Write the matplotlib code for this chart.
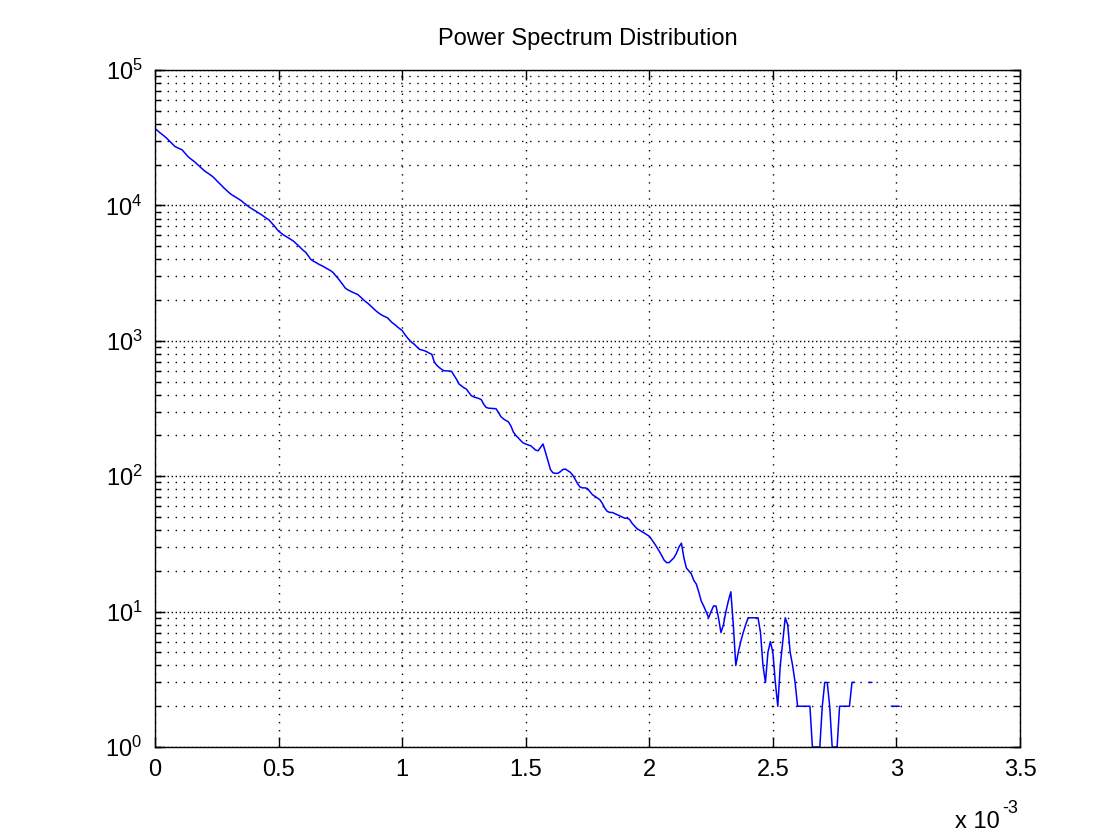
import numpy as np
import matplotlib.pyplot as plt
from matplotlib.ticker import LogLocator, FuncFormatter, NullFormatter

plt.rcParams['font.family'] = ['Liberation Sans', 'DejaVu Sans']
plt.rcParams['mathtext.fontset'] = 'custom'
plt.rcParams['mathtext.rm'] = 'Liberation Sans'

# bin step of the spectrum (x axis is in units of 1e-3)
x_step = 0.01
# counts per bin (0 = empty bin, not drawn on log axis)
counts = [
    36900, 35700, 34400, 33300, 32200, 31000, 29700, 28500, 27300, 26700,
    26200, 25700, 24500, 23300, 22400, 21700, 21000, 20200, 19400, 18700,
    18000, 17500, 17000, 16500, 15900, 15200, 14600, 14000, 13400, 12900,
    12400, 12000, 11700, 11400, 11100, 10800, 10400, 10100, 9750, 9500,
    9250, 9000, 8800, 8550, 8300, 8050, 7850, 7500, 7150, 6800,
    6450, 6250, 6050, 5900, 5750, 5600, 5450, 5250, 5050, 4850,
    4650, 4500, 4250, 4000, 3880, 3800, 3700, 3620, 3550, 3460,
    3380, 3300, 3200, 3050, 2900, 2750, 2600, 2450, 2380, 2330,
    2280, 2240, 2200, 2120, 2040, 1960, 1900, 1830, 1760, 1690,
    1630, 1580, 1540, 1510, 1480, 1420, 1360, 1320, 1270, 1230,
    1190, 1120, 1060, 1010, 970, 940, 900, 865, 855, 845,
    830, 810, 795, 700, 660, 635, 615, 600, 600, 598,
    595, 555, 520, 480, 465, 450, 440, 415, 393, 385,
    380, 375, 368, 340, 322, 318, 317, 316, 315, 295,
    275, 265, 258, 252, 235, 212, 200, 192, 183, 176,
    173, 170, 168, 162, 156, 154, 163, 173, 150, 130,
    112, 106, 105, 105, 108, 112, 113, 110, 107, 102,
    95, 88, 83, 82, 82, 81, 77, 73, 71, 69,
    67, 63, 58, 55, 54, 54, 53, 52, 51, 50,
    49, 49, 48, 45, 43, 41, 40, 39, 38, 37,
    36, 34, 32, 30, 28, 26, 24, 23, 23, 24,
    25, 27, 30, 32, 25, 21, 20, 19, 17, 16,
    14, 12, 11, 10, 9, 10, 11, 11, 9, 7,
    8, 10, 12, 14, 8, 4, 5, 6, 7, 8,
    9, 9, 9, 9, 9, 7, 4, 3, 5, 6,
    5, 3, 2, 4, 6, 9, 8, 5, 4, 3,
    2, 2, 2, 2, 2, 2, 1, 1, 1, 1,
    2, 3, 3, 2, 1, 1, 1, 2, 2, 2,
    2, 2, 3, 3, 0, 0, 0, 0, 0, 3,
    3, 0, 0, 0, 0, 0, 0, 0, 2, 2,
    2, 2,
]
title = 'Power Spectrum Distribution'
xticks = [0, 0.5, 1, 1.5, 2, 2.5, 3, 3.5]

x = np.arange(len(counts)) * x_step
y = np.array(counts, dtype=float)
y[y <= 0] = np.nan  # empty bins are left out, as on a log plot

fig = plt.figure(figsize=(11.04, 8.34), dpi=100)
ax = fig.add_axes([155/1104, 1 - 747/834, 865/1104, 677/834])

ax.semilogy(x, y, color='#0000ff', lw=1.1)

ax.set_xlim(0, 3.5)
ax.set_ylim(1, 1e5)
ax.set_xticks(xticks)
ax.xaxis.set_major_formatter(FuncFormatter(lambda v, p: '%g' % v))
ax.yaxis.set_major_locator(LogLocator(base=10, numticks=10))
# minor ticks include the decades so the grid looks doubled there
ax.yaxis.set_minor_locator(LogLocator(base=10, subs=np.arange(1, 10), numticks=20))
ax.yaxis.set_minor_formatter(NullFormatter())
ax.yaxis.remove_overlapping_locs = False

ax.tick_params(which='both', direction='in', top=True, right=True,
               labelsize=17, width=1, colors='black')
ax.tick_params(which='major', length=7, pad=9)
ax.tick_params(which='minor', length=4)

dots = (0, (1, 4.8))
ax.grid(True, which='major', axis='both', color='black', lw=1.0, linestyle=dots)
ax.grid(True, which='minor', axis='y', color='black', lw=1.0, linestyle=(2.9, (1, 4.8)))

for s in ax.spines.values():
    s.set_linewidth(1.0)

ax.set_title(title, fontsize=17, pad=18)
# multiplier of the x axis, MATLAB style
fig.text(1000/1104, 6/834, 'x 10', fontsize=17, ha='right', va='baseline')
fig.text(1002/1104, 21/834, '-3', fontsize=13, ha='left', va='baseline')

fig.savefig('out.png', dpi=100, facecolor='white')
